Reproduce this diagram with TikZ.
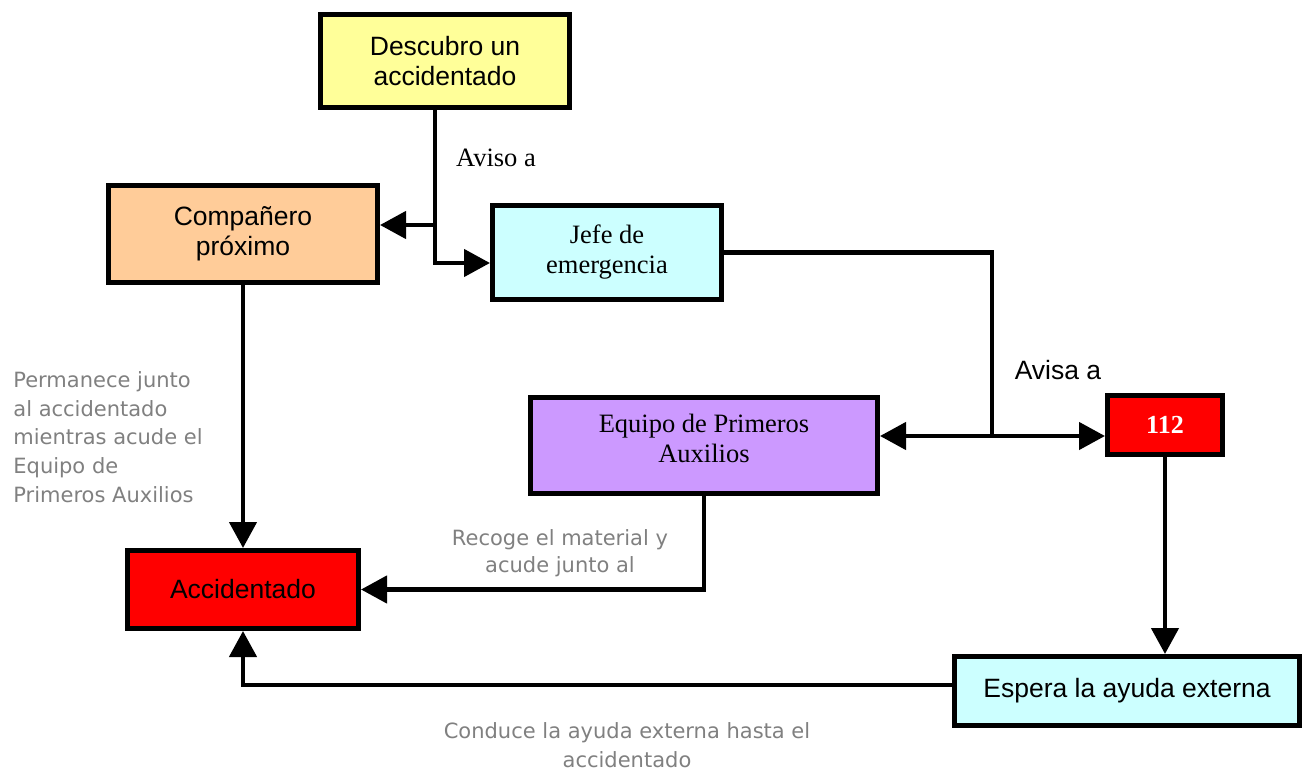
\documentclass[tikz,border=0pt]{standalone}
\usepackage{fontspec}
\usepackage{tikz}
\usetikzlibrary{arrows.meta}
\setmainfont{Liberation Serif}
\newfontfamily\arialfont{Liberation Sans}
\newfontfamily\notefont{DejaVu Sans}
\definecolor{boxyellow}{HTML}{FFFF99}
\definecolor{boxorange}{HTML}{FFCC99}
\definecolor{boxcyan}{HTML}{CCFFFF}
\definecolor{boxviolet}{HTML}{CC99FF}
\definecolor{boxred}{HTML}{FF0000}
\definecolor{notegray}{HTML}{808080}

\begin{document}
\begin{tikzpicture}[x=0.5pt, y=-0.5pt,
  every node/.style={inner sep=0pt},
  box/.style={draw=black, line width=2.5pt, rectangle, align=center},
  sansbox/.style={box, font=\arialfont\fontsize{13.25}{15}\selectfont},
  serifbox/.style={box, font=\fontsize{13.25}{15}\selectfont},
  note/.style={text=notegray, font=\notefont\fontsize{10.5}{14.3}\selectfont},
  link/.style={draw=black, line width=2.25pt},
  arrow/.style={link, -{Triangle[length=13pt, width=13.5pt]}},
  ]
  \useasboundingbox (0,0) rectangle (1308,771);
  \node[sansbox, fill=boxyellow, minimum width=124.5pt, minimum height=46.5pt] (desc) at (445,61) {Descubro un\\accidentado};
  \node[sansbox, fill=boxorange, minimum width=134.5pt, minimum height=48.5pt] (comp) at (243,234) {Compañero\\próximo};
  \node[serifbox, fill=boxcyan, minimum width=114.5pt, minimum height=47pt] (jefe) at (607,252.5) {Jefe de\\emergencia};
  \node[serifbox, fill=boxviolet, minimum width=173.5pt, minimum height=48pt] (equipo) at (704,445.5) {Equipo de Primeros\\Auxilios\\[-8pt]};
  \node[serifbox, fill=boxred, text=white, font=\bfseries\fontsize{13}{15}\selectfont, minimum width=57.5pt, minimum height=29.5pt] (n112) at (1165,425) {112};
  \node[sansbox, fill=boxred, minimum width=115.5pt, minimum height=39pt] (acc) at (243,589.5) {Accidentado};
  \node[sansbox, fill=boxcyan, minimum width=172.5pt, minimum height=34.5pt] (espera) at (1127,691) {Espera la ayuda externa};

  \coordinate (tapA) at (435,225);
  \coordinate (bendA) at (435,263);
  \coordinate (tapB) at (992,436);
  \coordinate (bendB) at (243,685);

  \draw[arrow] (desc.south -| tapA) -- (bendA) -- (jefe.west |- bendA);
  \draw[arrow] (tapA) -- (comp.east |- tapA);
  \draw[link] (jefe.east) -| (tapB);
  \draw[arrow] (tapB) -- (equipo.east |- tapB);
  \draw[arrow] (tapB) -- (n112.west |- tapB);
  \draw[arrow] (n112.south) -- (espera.north -| n112.south);
  \draw[arrow] (espera.west |- bendB) -- (bendB) -- (acc.south);
  \draw[arrow] (equipo.south) |- (acc.east);
  \draw[arrow] (comp.south) -- (acc.north);

  \node[font=\fontsize{13.25}{15}\selectfont] (aviso) at (496,158) {Aviso a};
  \node[font=\arialfont\fontsize{13.25}{15}\selectfont] (avisa) at (1058,370) {Avisa a};
  \node[note, anchor=west, align=left] (permanece) at (13,437) {Permanece junto\\al accidentado\\mientras acude el\\Equipo de\\Primeros Auxilios};
  \node[note, align=center, font=\notefont\fontsize{10.5}{13.5}\selectfont] (recoge) at (560,553) {Recoge el material y\\acude junto al};
  \node[note, align=center, font=\notefont\fontsize{10.5}{14.5}\selectfont] (conduce) at (627,745) {Conduce la ayuda externa hasta el\\accidentado};
\end{tikzpicture}
\end{document}
